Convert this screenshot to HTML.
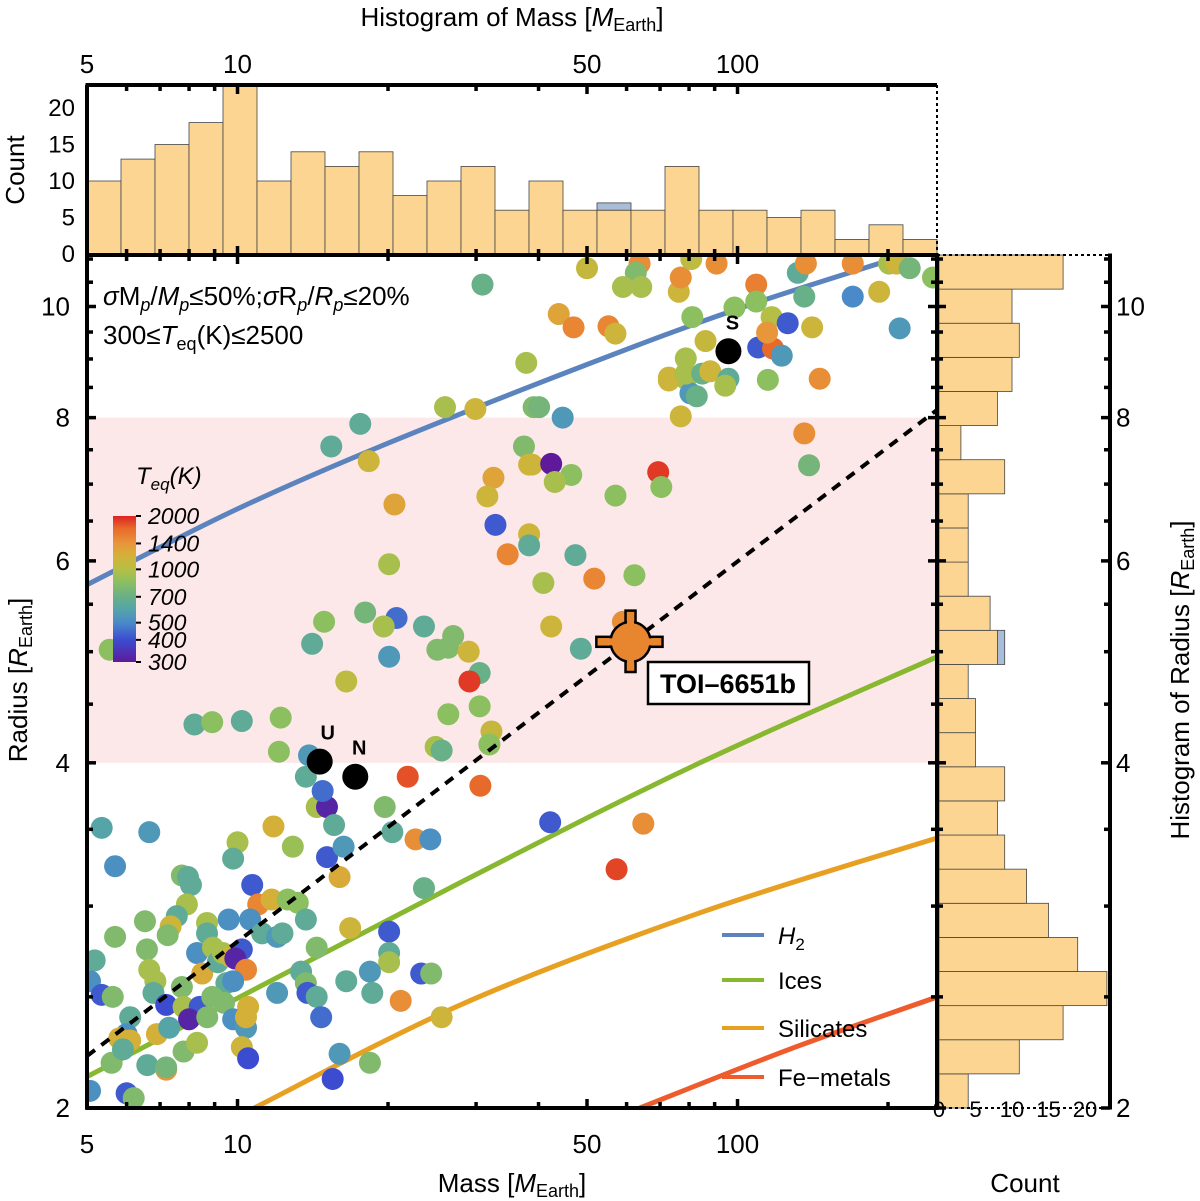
<!DOCTYPE html>
<html><head><meta charset="utf-8"><style>
html,body{margin:0;padding:0;background:#fff;}
svg{display:block;font-family:"Liberation Sans",sans-serif;}
</style></head><body>
<svg id="chart" width="1200" height="1201" viewBox="0 0 1200 1201" xmlns="http://www.w3.org/2000/svg">
<defs>
<clipPath id="mainclip"><rect x="87" y="255" width="850" height="853"/></clipPath>
<linearGradient id="cbar" x1="0" y1="1" x2="0" y2="0">
<stop offset="0" stop-color="#5e1a9a"/><stop offset="0.152" stop-color="#3c4cd0"/><stop offset="0.269" stop-color="#4a8ac8"/><stop offset="0.365" stop-color="#55a5a8"/><stop offset="0.447" stop-color="#68b088"/><stop offset="0.549" stop-color="#8cbf60"/><stop offset="0.635" stop-color="#b5bf45"/><stop offset="0.731" stop-color="#d4b038"/><stop offset="0.812" stop-color="#e8963a"/><stop offset="0.914" stop-color="#e86a2a"/><stop offset="1" stop-color="#dd2222"/>
</linearGradient>
</defs>
<g id="g-band"></g>
<g id="g-hist"></g>
<g id="g-curves" clip-path="url(#mainclip)"></g>
<g id="g-points" clip-path="url(#mainclip)"></g>
<g id="g-dash" clip-path="url(#mainclip)"></g>
<g id="g-special"></g>
<g id="g-axes"></g>
<g id="g-text"></g>
</svg>
<script>
// ---- data ----
const massBinCounts=[10,13,15,18,23,10,14,12,14,8,10,12,6,10,6,6,6,12,6,6,5,6,2,4,2];
const massBinExtra=[0,0,0,0,0,0,0,0,0,0,0,0,0,0,0,1,0,0,0,0,0,0,0,0,0];
const radiusBinCounts=[4,11,17,23,19,15,12,9,8,9,5,5,4,8,7,4,4,4,9,3,8,10,11,10,17];
const radiusBinExtra=[0,0,0,0,0,0,0,0,0,0,0,0,0,1,0,0,0,0,0,0,0,0,0,0,0];
const masses=[5.35,6.66,5.69,7.74,7.96,8.07,7.92,6.53,7.56,7.35,7.25,5.69,8.69,8.69,6.59,5.18,5.07,5.35,5.63,6.66,6.85,6.79,8.3,8.5,8.93,9.13,9.35,9.7,10.2,9.9,10.4,9.5,9.8,7.74,7.2,7.8,8.4,8.0,8.7,8.9,9.4,6.1,6.0,5.8,6.1,6.9,7.3,9.8,10.4,10.5,10.4,5.6,5.9,6.6,7.2,7.2,7.8,8.3,10.2,10.5,5.07,6.0,6.2,10.0,9.8,10.7,11.0,11.7,12.6,13.2,9.6,10.6,11.2,12.0,12.3,13.7,11.8,12.9,15.1,16.3,16.0,14.4,15.1,15.6,19.7,20.4,22.7,24.3,23.6,16.8,20.1,20.1,20.1,14.4,13.4,13.7,13.8,12.0,14.4,16.5,18.4,18.6,23.3,24.4,21.2,14.7,25.6,16.0,18.4,15.5,
30.9,37.8,26.0,29.9,39.1,17.6,15.4,18.3,20.6,32.5,31.6,37.4,38.3,32.8,38.3,38.3,34.7,40.1,44.7,38.8,42.4,46.5,43.1,47.4,51.7,62.2,40.9,57.0,69.4,70.4,20.1,72.9,78.8,80.5,82.9,77.0,14.9,14.1,18.0,20.8,19.6,23.6,27.0,26.4,25.1,29.0,20.1,42.4,48.6,59.0,
16.5,12.2,12.1,30.5,29.1,30.5,26.4,32.2,31.9,24.9,25.6,13.9,13.7,14.8,21.9,30.6,
50.0,63.7,62.6,59.0,64.2,76.3,77.0,80.8,90.8,109,109,98.6,81.2,43.9,47.0,55.2,57.0,86.3,110,117.8,122.6,117,114.6,126,141,78.8,72.9,78.8,85,88.2,95.9,94.5,115,146,136,132,137,136,170,170,192,201,208,221,246,211,139,
64.8,57.3,42.2,5.55,8.2,8.9,10.2];
const radii=[3.51,3.48,3.25,3.19,3.18,3.13,3.01,2.91,2.94,2.88,2.83,2.82,2.90,2.84,2.75,2.69,2.58,2.51,2.50,2.64,2.58,2.52,2.73,2.62,2.76,2.68,2.73,2.71,2.75,2.70,2.64,2.57,2.58,2.55,2.46,2.45,2.45,2.39,2.40,2.50,2.47,2.40,2.32,2.30,2.29,2.32,2.35,2.39,2.35,2.45,2.40,2.19,2.25,2.18,2.16,2.17,2.24,2.28,2.26,2.21,2.07,2.06,2.04,3.41,3.30,3.13,3.01,3.04,3.04,3.02,2.92,2.92,2.84,2.82,2.84,2.92,3.52,3.38,3.31,3.38,3.18,3.66,3.66,3.53,3.66,3.48,3.43,3.43,3.11,2.87,2.85,2.73,2.68,2.76,2.63,2.57,2.52,2.52,2.50,2.58,2.63,2.52,2.62,2.62,2.48,2.40,2.40,2.23,2.19,2.12,
10.45,8.93,8.17,8.14,8.17,7.90,7.55,7.33,6.72,7.09,6.83,7.55,7.28,6.45,6.33,6.19,6.08,8.17,8.00,7.28,7.29,7.13,7.03,6.07,5.79,5.83,5.74,6.84,7.17,6.96,5.96,8.62,8.65,8.40,8.35,8.02,5.31,5.08,5.41,5.35,5.26,5.26,5.16,5.04,5.02,5.00,4.95,5.26,5.03,5.31,
4.71,4.38,4.09,4.79,4.71,4.48,4.41,4.26,4.15,4.13,4.10,4.06,3.89,3.78,3.89,3.82,
10.8,10.9,10.7,10.4,10.4,10.3,10.6,11.0,10.9,10.45,10.1,9.98,9.79,9.85,9.59,9.61,9.47,9.33,9.21,9.19,9.06,9.79,9.49,9.67,9.59,9.01,8.67,8.74,8.74,8.78,8.65,8.53,8.63,8.65,7.75,10.7,10.9,10.2,10.9,10.2,10.3,10.9,10.9,10.8,10.6,9.57,7.27,
3.54,3.23,3.55,5.02,4.32,4.34,4.35];
const teqs=[600,550,520,800,650,650,950,800,650,1150,800,800,950,650,800,650,520,420,800,950,950,650,520,1250,950,650,950,1150,420,320,1500,650,520,800,400,950,420,320,800,800,800,650,520,1200,1200,1200,600,520,550,1200,1200,800,650,650,1400,750,800,950,1150,400,520,420,800,950,650,420,1500,1200,850,850,520,520,650,550,650,650,1200,900,420,550,1250,950,320,650,800,650,1450,520,700,1150,420,650,950,800,650,800,420,550,650,650,550,650,420,800,1450,450,1150,550,800,400,
700,950,950,1150,800,650,650,1150,1300,1300,1150,800,1150,420,1150,650,1500,750,550,1150,300,850,950,650,1500,850,950,850,1900,850,950,1150,950,550,700,1150,850,650,750,450,950,650,800,800,800,1150,550,1150,650,1450,
1050,850,850,700,1900,850,850,1100,850,950,700,550,650,450,1800,1700,
1100,1450,800,950,950,1150,1450,1050,1450,1550,850,850,850,1300,1500,1500,1150,1100,420,1700,550,1000,1400,420,1150,950,1150,950,700,1150,650,950,850,1450,1450,650,1450,700,1450,500,1150,950,1150,750,850,550,750,
1450,1850,420,850,650,850,650];
const solarNames=["U","N","S"];
const solarMasses=[14.6,17.2,95.9];
const solarRadii=[4.01,3.89,9.14];
const toiMass=[61.1], toiMassLo=[52.2], toiMassHi=[70.8];
const toiRadius=[5.10], toiRadiusLo=[4.80], toiRadiusHi=[5.43];
const h2Mass=[5,10,20,50,100,216,260], h2Radius=[5.72,6.66,7.6,8.9,9.95,11.08,11.35];
const iceMass=[4.9,28.5,84.1,251], iceRadius=[2.12,3.16,4.0,4.95];
const silMass=[10.8,28.5,84.1,251], silRadius=[2.0,2.47,2.96,3.44];
const feMass=[63.8,127,251], feRadius=[2.0,2.25,2.5];
const dashMass=[5,251], dashRadius=[2.22,8.13];
const massTicks=[5,10,50,100];
const radiusTicks=[2,4,6,8,10];
const countTicks=[0,5,10,15,20];
const cbarTicks=[300,400,500,700,1000,1400,2000];
// ---- scales ----
const NS="http://www.w3.org/2000/svg";
const X0=87,X1=937,Y0=255,Y1=1108;
const xs=m=>X0+500*Math.log10(m/5);
const ys=r=>Y1-498*Math.log(r/2);
const cpx=7.3;
const stops=[[0,[94,26,154]],[0.152,[60,76,208]],[0.269,[74,138,200]],[0.365,[85,165,168]],[0.447,[104,176,136]],[0.549,[140,191,96]],[0.635,[181,191,69]],[0.731,[212,176,56]],[0.812,[232,150,58]],[0.914,[232,106,42]],[1,[221,34,34]]];
function tcol(T){let t=Math.log(T/300)/Math.log(2000/300);t=Math.max(0,Math.min(1,t));
 for(let i=1;i<stops.length;i++){if(t<=stops[i][0]){const a=stops[i-1],b=stops[i];const f=(t-a[0])/(b[0]-a[0]);
 const c=a[1].map((v,k)=>Math.round(v+(b[1][k]-v)*f));return`rgb(${c[0]},${c[1]},${c[2]})`;}}return"rgb(221,34,34)";}
function mk(tag,attrs,parent){const e=document.createElementNS(NS,tag);for(const k in attrs)e.setAttribute(k,attrs[k]);parent.appendChild(e);return e;}
const gBand=document.getElementById('g-band'),gHist=document.getElementById('g-hist'),gCurves=document.getElementById('g-curves'),gPts=document.getElementById('g-points'),gDash=document.getElementById('g-dash'),gSp=document.getElementById('g-special'),gAx=document.getElementById('g-axes'),gTx=document.getElementById('g-text');
let band=mk('rect',{x:X0,y:ys(8),width:X1-X0,height:ys(4)-ys(8),fill:'#fde8e9'},gBand);


const nb=massBinCounts.length, bw=(X1-X0)/nb;
massBinCounts.forEach((c,i)=>{
 const x=X0+i*bw, h=c*cpx;
 const r=mk('rect',{x:x,y:254-h,width:bw,height:h,fill:'#fdd592',stroke:'#444','stroke-width':0.8},gHist);
 
 
 if(massBinExtra[i]){const e=mk('rect',{x:x,y:254-h-massBinExtra[i]*cpx,width:bw,height:massBinExtra[i]*cpx,fill:'#a9bcd8',stroke:'#444','stroke-width':0.8},gHist);
 
 }
});
const nr=radiusBinCounts.length, bh=(Y1-Y0)/nr;
radiusBinCounts.forEach((c,i)=>{
 const y=Y1-(i+1)*bh, w=c*cpx;
 const r=mk('rect',{x:939,y:y,width:w,height:bh,fill:'#fdd592',stroke:'#444','stroke-width':0.8},gHist);
 
 
 if(radiusBinExtra[i]){const e=mk('rect',{x:939+w,y:y,width:radiusBinExtra[i]*cpx,height:bh,fill:'#a9bcd8',stroke:'#444','stroke-width':0.8},gHist);
 
 }
});
// smooth curves (Catmull-Rom)
function curve(ms,rs,color,name,dash){
 const P=ms.map((m,i)=>[xs(m),ys(rs[i])]);
 let d='M'+P[0][0].toFixed(1)+','+P[0][1].toFixed(1);
 for(let i=0;i<P.length-1;i++){
  const p0=P[Math.max(0,i-1)],p1=P[i],p2=P[i+1],p3=P[Math.min(P.length-1,i+2)];
  const c1=[p1[0]+(p2[0]-p0[0])/6,p1[1]+(p2[1]-p0[1])/6],c2=[p2[0]-(p3[0]-p1[0])/6,p2[1]-(p3[1]-p1[1])/6];
  d+=` C${c1[0].toFixed(1)},${c1[1].toFixed(1)} ${c2[0].toFixed(1)},${c2[1].toFixed(1)} ${p2[0].toFixed(1)},${p2[1].toFixed(1)}`;
 }
 const p=mk('path',{d:d,fill:'none',stroke:color,'stroke-width':dash?4:5,'stroke-dasharray':dash?'10,8':'none'},dash?gDash:gCurves);
 
 
}
curve(h2Mass,h2Radius,'#5b84bf','h2-curve');
curve(iceMass,iceRadius,'#88b830','ices-curve');
curve(silMass,silRadius,'#e8a022','silicates-curve');
curve(feMass,feRadius,'#ee5c2e','fe-metals-curve');
masses.forEach((m,i)=>{
 const c=mk('circle',{cx:xs(m),cy:ys(radii[i]),r:11,fill:tcol(teqs[i])},gPts);
 
 
});
curve(dashMass,dashRadius,'#000','dashed-reference-line',true);
solarMasses.forEach((m,i)=>{
 const cx=xs(m),cy=ys(solarRadii[i]);
 const c=mk('circle',{cx:cx,cy:cy,r:13,fill:'#000'},gSp);
 
 
 const t=mk('text',{x:cx+(i==0?8:4),y:cy-22,'font-size':20,'font-weight':'bold','text-anchor':'middle'},gSp);
 t.textContent=solarNames[i];
 
 
});
{
 const cx=xs(toiMass[0]),cy=ys(toiRadius[0]);
 const x1=xs(toiMassLo[0]),x2=xs(toiMassHi[0]),y1=ys(toiRadiusHi[0]),y2=ys(toiRadiusLo[0]);
 const g=mk('g',{},gSp);
 
 
 mk('rect',{x:x1,y:cy-5,width:x2-x1,height:10,fill:'#e8862f',stroke:'#000','stroke-width':2.5},g);
 mk('rect',{x:cx-5,y:y1,width:10,height:y2-y1,fill:'#e8862f',stroke:'#000','stroke-width':2.5},g);
 mk('circle',{cx:cx,cy:cy,r:20,fill:'#e8862f',stroke:'#000','stroke-width':2.5},g);
 mk('rect',{x:x1+1.5,y:cy-3.5,width:x2-x1-3,height:7,fill:'#e8862f'},g);
 mk('rect',{x:cx-3.5,y:y1+1.5,width:7,height:y2-y1-3,fill:'#e8862f'},g);
 const b=mk('rect',{x:648,y:662,width:161,height:42,fill:'#fff',stroke:'#000','stroke-width':2.5},gSp);
 
 
 const t=mk('text',{x:728,y:693,'font-size':27,'font-weight':'bold','text-anchor':'middle'},gSp);
 t.textContent='TOI\u20136651b';
 
 
}
function line(x1,y1,x2,y2,w,name,dash){const l=mk('line',{x1:x1,y1:y1,x2:x2,y2:y2,stroke:'#000','stroke-width':w,'stroke-dasharray':dash||'none'},gAx);
 
 return l;}
line(X0,Y0,X0,Y1+1.5,4,'main-left-axis');
line(X0-1.5,Y1,X1+1.5,Y1,4,'main-bottom-axis');
line(X0-1.5,Y0,X1+1.5,Y0,4,'main-top-axis');
line(X1,Y0,X1,Y1,4,'main-right-axis');
line(X0,85,X0,Y0,4,'top-hist-left-axis');
line(X0-1.5,85,X1,85,4,'top-hist-top-axis');
line(X1,85,X1,Y0,2,'top-hist-right-axis','3,3');
line(1110,Y0-1.5,1110,Y1+1.5,4,'right-hist-right-axis');
line(X1,Y0,1110,Y0,2,'right-hist-top-axis','3,3');
line(X1,Y1,1110,Y1,2,'right-hist-bottom-axis','3,3');
const minorM=[6,7,8,9,20,30,40,60,70,80,90,200];
[...massTicks.map(v=>[v,9]),...minorM.map(v=>[v,6])].forEach(([v,L])=>{const x=xs(v);
 line(x,Y1,x,Y1-L,3.5,'mass-tick');line(x,Y0,x,Y0+L,3.5,'mass-tick-top');line(x,85,x,85+L,3.5,'hist-mass-tick');line(x,Y0,x,Y0-L,3.5,'hist-mass-tick-bottom');});
const minorR=[2.5,3,3.5,4.5,5,5.5,6.5,7,7.5,8.5,9,9.5,10.5,11];
[...radiusTicks.map(v=>[v,9]),...minorR.map(v=>[v,6])].forEach(([v,L])=>{const y=ys(v);
 line(X0,y,X0+L,y,3.5,'radius-tick');line(X1,y,X1-L,y,3.5,'radius-tick-right');line(X1,y,X1+L,y,3.5,'hist-radius-tick');line(1110,y,1110-L,y,3.5,'hist-radius-tick-right');});
function txt(x,y,s,size,anchor,name,extra){const t=mk('text',Object.assign({x:x,y:y,'font-size':size,'text-anchor':anchor||'middle'},extra||{}),gTx);t.textContent=s;
 
 return t;}
massTicks.forEach(v=>{txt(xs(v),1153,String(v),26,'middle','mass-tick-label');txt(xs(v),73,String(v),26,'middle','hist-mass-tick-label');});
radiusTicks.forEach(v=>{txt(70,ys(v)+9,String(v),26,'end','radius-tick-label');txt(1116,ys(v)+9,String(v),26,'start','hist-radius-tick-label');});
countTicks.forEach(v=>{if(v>0)txt(75,254-v*cpx+8,String(v),24,'end','count-tick-label');
 txt(939+v*cpx,1117,String(v),22,'middle','right-count-tick-label');});
txt(75,262,'0',24,'end','count-tick-label');
const t1=txt(512,1192,'',26,'middle','x-axis-title');t1.innerHTML='Mass [<tspan font-style="italic">M</tspan><tspan font-size="18" dy="5">Earth</tspan><tspan dy="-5">]</tspan>';
const t2=txt(512,26,'',26,'middle','top-axis-title');t2.innerHTML='Histogram of Mass [<tspan font-style="italic">M</tspan><tspan font-size="18" dy="5">Earth</tspan><tspan dy="-5">]</tspan>';
const t3=txt(0,0,'',26,'middle','y-axis-title',{transform:'translate(27,680) rotate(-90)'});t3.innerHTML='Radius [<tspan font-style="italic">R</tspan><tspan font-size="18" dy="5">Earth</tspan><tspan dy="-5">]</tspan>';
const t4=txt(0,0,'',26,'middle','right-axis-title',{transform:'translate(1189,680) rotate(-90)'});t4.innerHTML='Histogram of Radius [<tspan font-style="italic">R</tspan><tspan font-size="18" dy="5">Earth</tspan><tspan dy="-5">]</tspan>';
txt(0,0,'Count',26,'middle','top-count-title',{transform:'translate(24,170) rotate(-90)'});
txt(1025,1192,'Count',26,'middle','right-count-title');
const a1=txt(103,305,'',26,'start','selection-criteria-text');a1.innerHTML='<tspan font-style="italic">σ</tspan>M<tspan font-size="18" dy="6" font-style="italic">p</tspan><tspan dy="-6">/</tspan><tspan font-style="italic">M</tspan><tspan font-size="18" dy="6" font-style="italic">p</tspan><tspan dy="-6">≤50%;</tspan><tspan font-style="italic">σ</tspan>R<tspan font-size="18" dy="6" font-style="italic">p</tspan><tspan dy="-6">/</tspan><tspan font-style="italic">R</tspan><tspan font-size="18" dy="6" font-style="italic">p</tspan><tspan dy="-6">≤20%</tspan>';
const a2=txt(103,344,'',26,'start','teq-range-text');a2.innerHTML='300≤<tspan font-style="italic">T</tspan><tspan font-size="18" dy="6">eq</tspan><tspan dy="-6">(K)≤2500</tspan>';
const cb=mk('rect',{x:113,y:516,width:23,height:146,fill:'url(#cbar)'},gTx);


const ct=txt(136,484,'',24,'start','colorbar-title',{'font-style':'italic'});ct.innerHTML='T<tspan font-size="17" dy="6">eq</tspan><tspan dy="-6">(K)</tspan>';
cbarTicks.forEach(v=>{const y=662-146*Math.log(v/300)/Math.log(2000/300);
 line(136,y,141,y,2,'colorbar-tick');
 txt(148,y+8,String(v),23,'start','colorbar-tick-label',{'font-style':'italic'});});
const leg=[['#5b84bf','H2',935],['#88b830','Ices',980],['#e8a022','Silicates',1028],['#ee5c2e','Fe\u2212metals',1077]];
leg.forEach(([c,l,y])=>{
 const ln=mk('line',{x1:722,y1:y,x2:764,y2:y,stroke:c,'stroke-width':4},gTx);
 
 
 const t=txt(778,y+9,'',24,'start','legend-entry');
 if(l==='H2')t.innerHTML='<tspan font-style="italic">H</tspan><tspan font-size="17" dy="6">2</tspan>';else t.textContent=l;
});
</script>
</body></html>
